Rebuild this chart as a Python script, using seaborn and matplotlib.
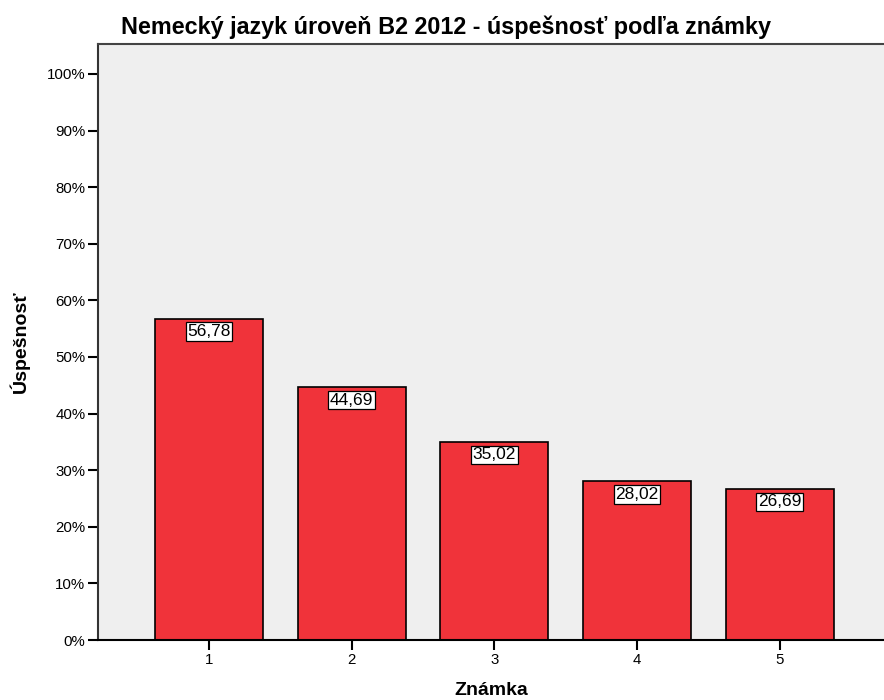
import matplotlib
matplotlib.use("Agg")
import matplotlib.pyplot as plt
import seaborn as sns
import pandas as pd
from matplotlib.ticker import FuncFormatter

grades = ["1", "2", "3", "4", "5"]
success = [56.78, 44.69, 35.02, 28.02, 26.69]
value_labels = ["56,78", "44,69", "35,02", "28,02", "26,69"]

df = pd.DataFrame({"Známka": grades, "Úspešnosť": success})

sns.set_theme(style="white")
plt.rcParams["font.family"] = ["Liberation Sans", "DejaVu Sans"]
plt.rcParams["text.color"] = "black"
plt.rcParams["axes.labelcolor"] = "black"

fig = plt.figure(figsize=(8.84, 7.0), dpi=100)
ax = fig.add_axes([98 / 884, 60 / 700, 1 - 98 / 884, (640 - 44) / 700])
ax.set_facecolor("#EFEFEF")

sns.barplot(data=df, x="Známka", y="Úspešnosť", color="#F0333A",
            saturation=1, width=0.757, edgecolor="black", linewidth=1.2, ax=ax)

ax.set_xlim(-0.778, 4.73)
ax.set_ylim(0, 105.3)
ax.set_yticks(range(0, 101, 10))
ax.yaxis.set_major_formatter(FuncFormatter(lambda v, p: f"{int(v)}%"))

for i, (v, lab) in enumerate(zip(success, value_labels)):
    ax.annotate(lab, xy=(i, v), xytext=(0, -13), textcoords="offset pixels",
                ha="center", va="center", fontsize=12.5, color="black",
                bbox=dict(boxstyle="square,pad=0.1", fc="white", ec="black", lw=0.9))

ax.spines["right"].set_visible(False)
ax.spines["left"].set_color("#333333")
ax.spines["top"].set_color("#444444")
ax.spines["bottom"].set_color("black")
for s in ["left", "top", "bottom"]:
    ax.spines[s].set_linewidth(1.5)

ax.tick_params(axis="both", which="major", direction="out", length=7, width=1.5,
               colors="black", labelsize=10.8, pad=2, left=True, bottom=True)

ax.set_xlabel("Známka", fontsize=14, fontweight="bold", labelpad=11)
ax.set_ylabel("Úspešnosť", fontsize=14, fontweight="bold", labelpad=12)

fig.suptitle("Nemecký jazyk úroveň B2 2012 - úspešnosť podľa známky",
             x=0.505, y=0.978, fontsize=16.8, fontweight="bold", color="black")

fig.savefig("out.png", dpi=100)
